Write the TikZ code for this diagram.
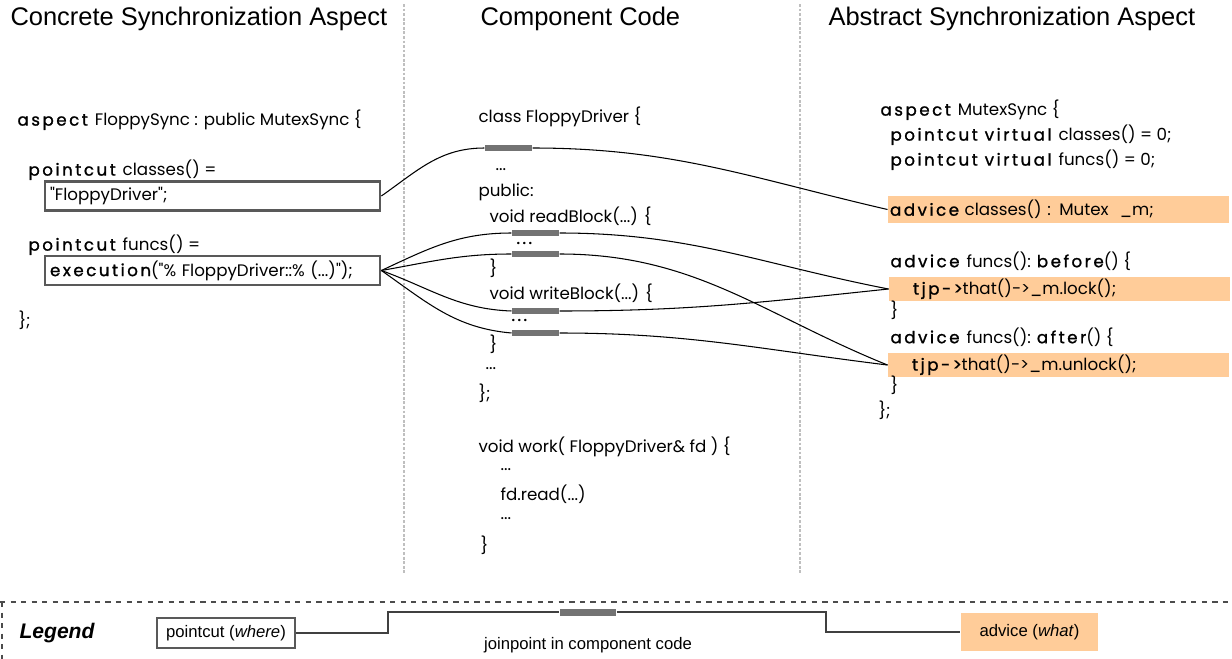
\documentclass[tikz,border=0pt]{standalone}
\usepackage{fontspec}
\newfontfamily\codefont{Poppins}
\newfontfamily\headfont{Liberation Sans}
\newfontfamily\kwfont[LetterSpace=15,FakeBold=1.2]{Poppins}
\newcommand{\kw}[1]{{\kwfont #1}}
\definecolor{advcol}{RGB}{255,204,153}

\begin{document}
\begin{tikzpicture}
  [
  x=0.02cm, y=-0.02cm,
  font=\codefont\fontsize{9.5}{11}\selectfont, line width=0.6pt,
  head/.style={anchor=west, inner sep=0pt, font=\headfont\fontsize{14.5}{17}\selectfont},
  code/.style={anchor=west, inner sep=0pt},
  pcbox/.style={rectangle, draw=black!65, line width=1.6pt, minimum height=0.58cm, text width=6.5cm, inner xsep=0.1cm, inner ysep=0pt},
  advbox/.style={rectangle, fill=advcol, text width=6.74cm, inner xsep=0.04cm, inner ysep=0pt},
  jpbar/.style={rectangle, fill=black!55, minimum width=0.94cm, minimum height=0.12cm, inner sep=0pt},
  sep/.style={gray!50, line width=1.6pt, densely dotted},
  lgd/.style={font=\headfont\fontsize{9.5}{11}\selectfont},
  wire/.style={black, line width=0.6pt}
  ]

\useasboundingbox (0,0) rectangle (1232,659);

% column headers and separators
\node[head] (hconc) at (10,19) {Concrete Synchronization Aspect};
\node[head] (hcomp) at (480,19) {Component Code};
\node[head] (habs) at (828,19) {Abstract Synchronization Aspect};
\draw[sep] (404,4) -- (404,575);
\draw[sep] (800,4) -- (800,575);

% concrete aspect
\node[code] (ca1) at (17,120) {\kw{aspect }FloppySync : public MutexSync \{};
\node[code] (ca2) at (28,170) {\kw{pointcut }classes() =};
\node[pcbox] (pc1) at (212.5,196) {"FloppyDriver";};
\node[code] (ca3) at (28,245) {\kw{pointcut }funcs() =};
\node[pcbox] (pc2) at (212.5,270.5) {\kw{execution}("\% FloppyDriver::\% (...)");};
\node[code] (ca4) at (18,320) {\};};

% component code
\node[code] (cc1) at (478,117) {class FloppyDriver \{};
\node[code] (cc2) at (495,170) {...};
\node[code] (cc3) at (478,192) {public:};
\node[code] (cc4) at (489,216) {void readBlock(...) \{};
\node[code] (cc5) at (516,243) {\kw{...}};
\node[code] (cc6) at (489,268) {\}};
\node[code] (cc7) at (489,293) {void writeBlock(...) \{};
\node[code] (cc8) at (511,320) {\kw{...}};
\node[code] (cc9) at (489,344) {\}};
\node[code] (cc10) at (485,369) {...};
\node[code] (cc11) at (478,393) {\};};
\node[code] (cc12) at (478,447) {void work( FloppyDriver\& fd ) \{};
\node[code] (cc13) at (500,470) {...};
\node[code] (cc14) at (500,494) {fd.read(...)};
\node[code] (cc15) at (500,519) {...};
\node[code] (cc16) at (480,545) {\}};

% joinpoints
\node[jpbar] (jp1) at (508.5,148) {};
\foreach \j/\y in {2/233, 3/254, 4/311, 5/333} {
  \node[jpbar] (jp\j) at (535.5,\y) {};
}

% abstract aspect
\node[code] (aa1) at (880,110) {\kw{aspect }MutexSync \{};
\node[code] (aa2) at (890,135) {\kw{pointcut virtual }classes() = 0;};
\node[code] (aa3) at (890,160) {\kw{pointcut virtual }funcs() = 0;};
\node[advbox, minimum height=0.54cm] (adv1) at (1058.5,209.5) {\kw{advice }classes() : Mutex \ \_m;};
\node[code] (aa4) at (890,261) {\kw{advice }funcs(): \kw{before}() \{};
\node[advbox, minimum height=0.48cm] (adv2) at (1059.5,289) {\hspace*{0.44cm}\kw{tjp->}that()->\_m.lock();};
\node[code] (aa5) at (890,310) {\}};
\node[code] (aa6) at (890,337) {\kw{advice }funcs(): \kw{after}() \{};
\node[advbox, minimum height=0.48cm] (adv3) at (1058.5,365) {\hspace*{0.44cm}\kw{tjp->}that()->\_m.unlock();};
\node[code] (aa7) at (890,385) {\}};
\node[code] (aa8) at (878,410) {\};};

% pointcut -> joinpoint -> advice
\draw[wire] (pc1.east) to[out=35,in=180] (jp1.west);
\draw[wire] (jp1.east) to[out=0,in=167] (adv1.west);
\draw[wire] (pc2.east) to[out=25,in=180] (jp2.west);
\draw[wire] (pc2.east) to[out=10,in=180] (jp3.west);
\draw[wire] (pc2.east) to[out=-20,in=178] (jp4.west);
\draw[wire] (pc2.east) to[out=-35,in=175] (jp5.west);
\draw[wire] (jp2.east) to[out=0,in=169] (adv2.west);
\draw[wire] (jp3.east) to[out=0,in=158] (adv3.west);
\draw[wire] (jp4.east) to[out=0,in=186] (adv2.west);
\draw[wire] (jp5.east) to[out=0,in=173] (adv3.west);

% legend
\draw[dashed, black!70] (0,602) -- (1232,602);
\draw[dashed, black!70] (2,602) -- (2,659);
\node[lgd, font=\headfont\fontsize{12}{14}\selectfont\bfseries\itshape] (lgtitle) at (57,633) {Legend};
\node[lgd, rectangle, draw=black!65, line width=1.6pt, minimum width=2.76cm, minimum height=0.6cm] (lgpc) at (226,633) {pointcut (\textit{where})};
\node[jpbar, minimum width=1.12cm, minimum height=0.14cm] (lgjp) at (588,612) {};
\node[lgd, rectangle, fill=advcol, minimum width=2.74cm, minimum height=0.76cm] (lgadv) at (1029.5,632) {advice (\textit{what})};
\node[lgd] (lgtext) at (588,645) {joinpoint in component code};
\coordinate (lgbendA) at (388,622);
\coordinate (lgbendB) at (826,622);
\draw[black!75] (lgpc.east) -| (lgbendA) |- (lgjp.west);
\draw[black!75] (lgjp.east) -| (lgbendB) |- (lgadv.west);
\end{tikzpicture}
\end{document}
